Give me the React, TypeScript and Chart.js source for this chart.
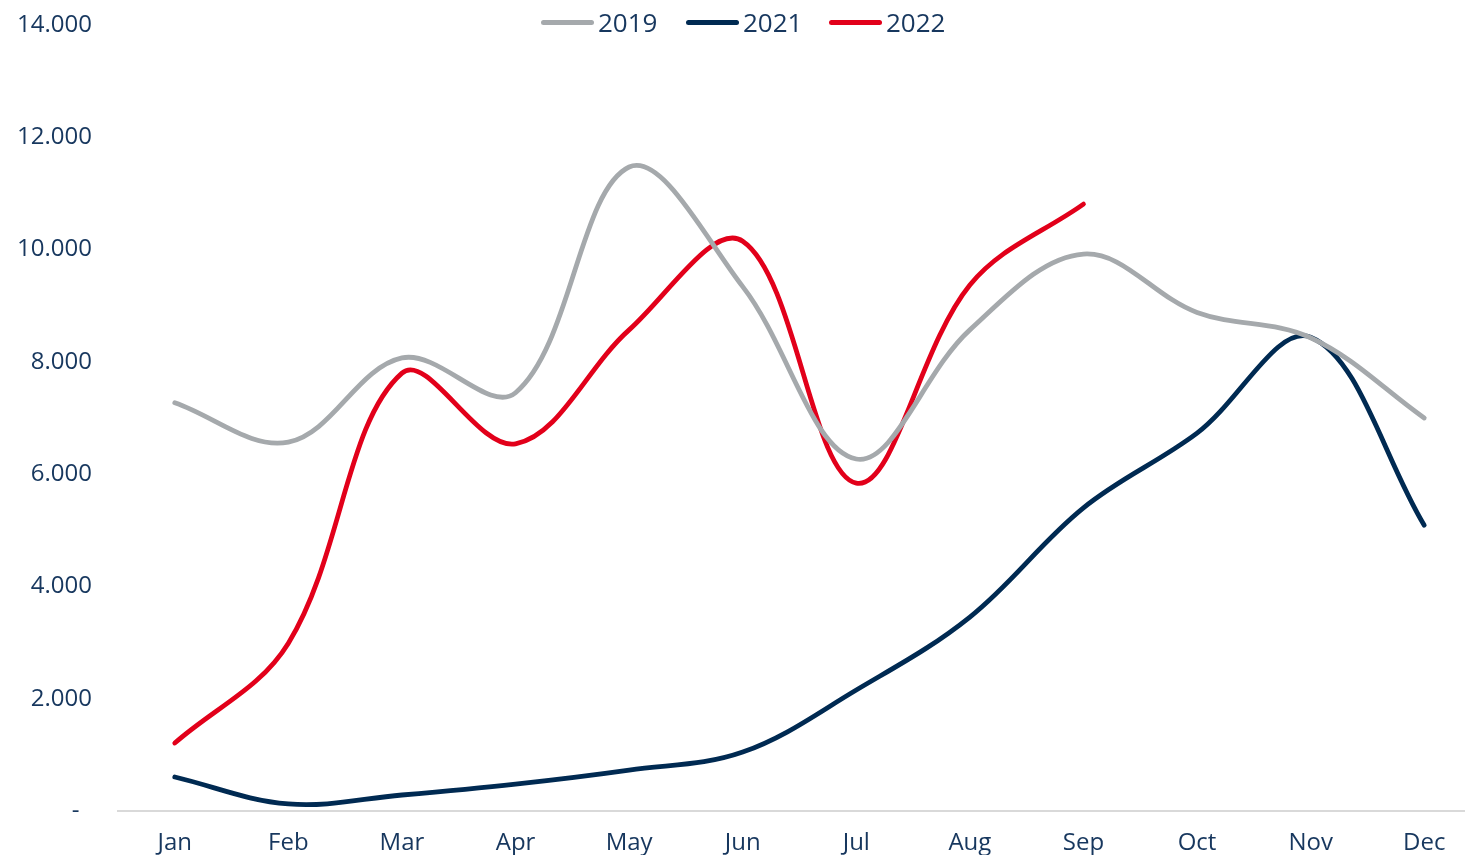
import React, { useEffect, useRef } from "react";
import { Chart, registerables } from "chart.js";

Chart.register(...registerables);

const months = ["Jan", "Feb", "Mar", "Apr", "May", "Jun", "Jul", "Aug", "Sep", "Oct", "Nov", "Dec"];
const values2019 = [7270, 6570, 8070, 7450, 11470, 9340, 6270, 8570, 9920, 8880, 8430, 7000];
const values2021 = [605, 125, 285, 480, 730, 1050, 2155, 3455, 5400, 6730, 8440, 5090];
const values2022 = [1210, 2990, 7800, 6540, 8570, 10150, 5840, 9370, 10810];
const yTicks = [0, 2000, 4000, 6000, 8000, 10000, 12000, 14000];

const seriesNames = ["2019", "2021", "2022"];
const seriesColors = ["#a5a9ac", "#002a52", "#e2001a"];
const textColor = "#17375e";
const fontFamily = "'Open Sans', sans-serif";

function fmt(v: number): string {
  if (v === 0) return "-  ";
  return v.toLocaleString("de-DE");
}

export default function App() {
  const canvasRef = useRef<HTMLCanvasElement | null>(null);

  useEffect(() => {
    document.body.style.margin = "0";
    const canvas = canvasRef.current;
    if (!canvas) return;
    const data = [values2019, values2021, values2022];
    const chart = new Chart(canvas, {
      type: "line",
      data: {
        labels: months,
        datasets: data.map((d, i) => ({
          label: seriesNames[i],
          data: d,
          borderColor: seriesColors[i],
          backgroundColor: seriesColors[i],
          borderWidth: 4.8,
          borderCapStyle: "round",
          borderJoinStyle: "round",
          pointRadius: 0,
          pointHoverRadius: 0,
          tension: 0.36,
          fill: false,
        })),
      },
      options: {
        responsive: false,
        animation: false,
        devicePixelRatio: 1,
        layout: { padding: { top: 25, right: 0, left: 0, bottom: 0 } },
        plugins: {
          legend: { display: false },
          tooltip: { enabled: false },
        },
        scales: {
          x: {
            type: "category",
            offset: true,
            grid: { display: false, drawTicks: false },
            border: { display: true, color: "#d9d9d9", width: 2 },
            ticks: {
              color: textColor,
              font: { family: fontFamily, size: 24 },
              padding: 18,
              maxRotation: 0,
              autoSkip: false,
            },
            afterFit: (scale: any) => {
              scale.height = 44;
            },
          },
          y: {
            min: 0,
            max: 14000,
            afterBuildTicks: (scale: any) => {
              scale.ticks = yTicks.map((v) => ({ value: v }));
            },
            grid: { display: false, drawTicks: false },
            border: { display: false },
            ticks: {
              color: textColor,
              font: { family: fontFamily, size: 24 },
              padding: 26,
              callback: (v: any) => fmt(Number(v)),
            },
            afterFit: (scale: any) => {
              scale.width = 118;
              scale.paddingTop = 0;
              scale.paddingBottom = 0;
            },
          },
        },
      },
    });
    return () => chart.destroy();
  }, []);

  const legendLeft = [541, 686, 829];

  return (
    <div
      style={{
        position: "fixed",
        left: 0,
        top: 0,
        width: 1465,
        height: 855,
        overflow: "hidden",
        background: "#ffffff",
      }}
    >
      <canvas ref={canvasRef} width={1481} height={855} style={{ width: 1481, height: 855, display: "block" }} />
      {seriesNames.map((name, i) => (
        <div
          key={name}
          style={{
            position: "absolute",
            left: legendLeft[i],
            top: 4,
            height: 36,
            display: "flex",
            alignItems: "center",
            fontFamily,
            fontSize: 26,
            color: textColor,
          }}
        >
          <span
            style={{
              display: "inline-block",
              width: 53,
              height: 5,
              borderRadius: 3,
              background: seriesColors[i],
              marginRight: 4,
            }}
          />
          <span>{name}</span>
        </div>
      ))}
    </div>
  );
}
